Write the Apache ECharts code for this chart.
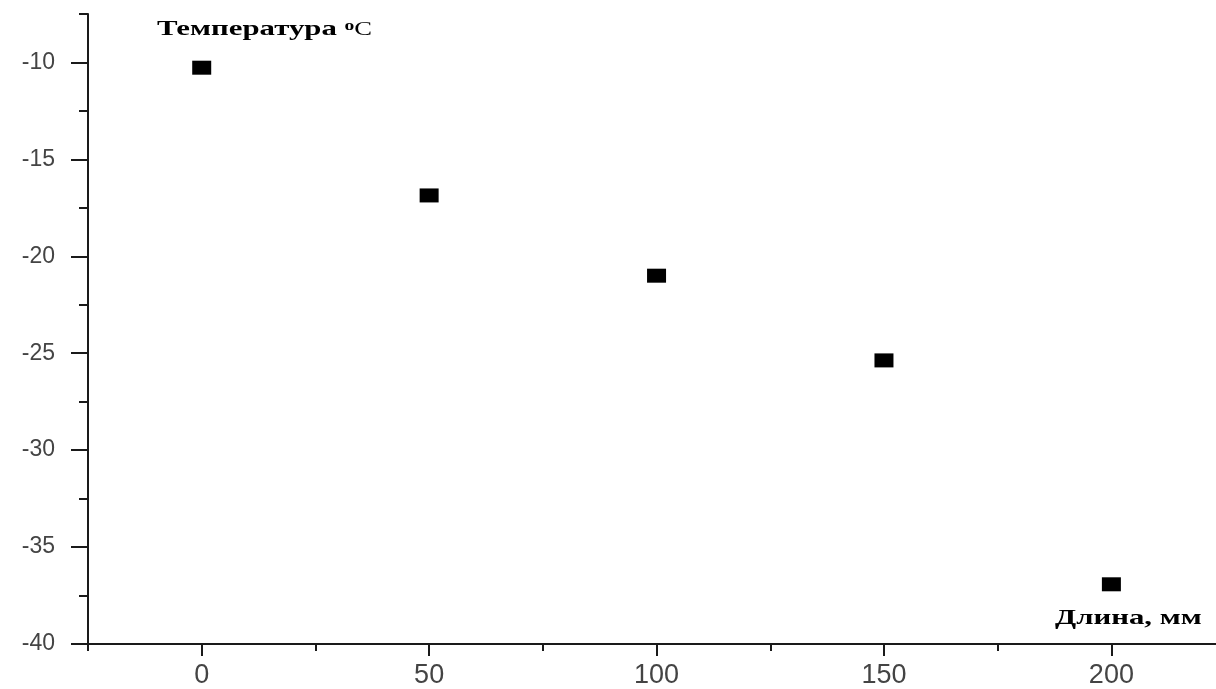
<!DOCTYPE html>
<html>
<head>
<meta charset="utf-8">
<script src="https://cdn.jsdelivr.net/npm/echarts@6/dist/echarts.min.js"></script>
<style>
html,body{margin:0;padding:0;background:#fff;}
#c{width:1216px;height:689px;}
</style>
</head>
<body>
<div id="c"></div>
<script>
// Data
var lengths = [0, 50, 100, 150, 200];
var temps = [-10.27, -16.86, -21.0, -25.37, -36.92];
var xTickLabels = [0, 50, 100, 150, 200];
var xMinorTicks = [-25, 25, 75, 125, 175];
var yTickLabels = [-40, -35, -30, -25, -20, -15, -10];
var yMinorTicks = [-37.5, -32.5, -27.5, -22.5, -17.5, -12.5, -7.5];
var yTitle = 'Температура ';
var yTitleSup = 'o';
var yTitleUnit = 'C';
var xTitle = 'Длина, мм';

var points = lengths.map(function (x, i) { return [x, temps[i]]; });

var chart = echarts.init(document.getElementById('c'));
var axisLineStyle = { color: '#1a1a1a', width: 2 };
var labelFont = { color: '#444', fontFamily: 'Liberation Sans, Arial, sans-serif' };
var serif = 'Liberation Serif, Times New Roman, serif';

chart.setOption({
  animation: false,
  backgroundColor: '#fff',
  grid: { left: 88, right: 0, top: 14, bottom: 41, containLabel: false },
  xAxis: [
    {
      type: 'value', min: -25, max: 223, interval: 25, position: 'bottom',
      axisLine: { show: true, onZero: false, lineStyle: axisLineStyle },
      axisTick: { show: true, length: 12, lineStyle: axisLineStyle, customValues: xTickLabels },
      axisLabel: Object.assign({ fontSize: 27, margin: 18, customValues: xTickLabels }, labelFont),
      splitLine: { show: false }
    },
    {
      type: 'value', min: -25, max: 223, interval: 25, position: 'bottom',
      axisLine: { show: false, onZero: false },
      axisTick: { show: true, length: 7, lineStyle: axisLineStyle, customValues: xMinorTicks },
      axisLabel: { show: false },
      splitLine: { show: false }
    }
  ],
  yAxis: [
    {
      type: 'value', min: -40, max: -7.5, interval: 2.5, position: 'left',
      axisLine: { show: true, onZero: false, lineStyle: axisLineStyle },
      axisTick: { show: true, length: 17, lineStyle: axisLineStyle, customValues: yTickLabels },
      axisLabel: Object.assign({ fontSize: 23, margin: 33, customValues: yTickLabels }, labelFont),
      splitLine: { show: false }
    },
    {
      type: 'value', min: -40, max: -7.5, interval: 2.5, position: 'left',
      axisLine: { show: false, onZero: false },
      axisTick: { show: true, length: 9, lineStyle: axisLineStyle, customValues: yMinorTicks },
      axisLabel: { show: false },
      splitLine: { show: false }
    }
  ],
  series: [{
    type: 'scatter',
    xAxisIndex: 0, yAxisIndex: 0,
    symbol: 'rect',
    symbolSize: [19, 14],
    itemStyle: { color: '#000', opacity: 1 },
    data: points
  }],
  graphic: [
    {
      type: 'text', x: 157, y: 18, scaleX: 1.4, scaleY: 1,
      style: {
        x: 0, y: 0,
        verticalAlign: 'top',
        text: '{b|' + yTitle + '}{s|' + yTitleSup + '}{c|' + yTitleUnit + '}',
        rich: {
          b: { fontFamily: serif, fontWeight: 'bold', fontSize: 22, fill: '#000', verticalAlign: 'bottom' },
          s: { fontFamily: serif, fontWeight: 'bold', fontSize: 14, fill: '#000', verticalAlign: 'top', padding: [1, 0, 0, 0] },
          c: { fontFamily: serif, fontWeight: 'normal', fontSize: 19, fill: '#000', verticalAlign: 'bottom' }
        }
      }
    },
    {
      type: 'text', x: 1055, y: 607, scaleX: 1.4, scaleY: 1,
      style: {
        x: 0, y: 0,
        verticalAlign: 'top',
        text: xTitle,
        font: 'bold 22px "Liberation Serif", "Times New Roman", serif',
        fill: '#000'
      }
    }
  ]
});
</script>
</body>
</html>
